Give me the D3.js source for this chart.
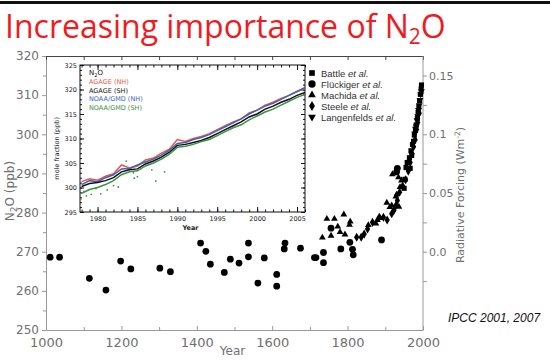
<!DOCTYPE html>
<html>
<head>
<meta charset="utf-8">
<script src="https://cdn.jsdelivr.net/npm/d3@7"></script>
<style>
  body { margin: 0; background: #fff; }
  svg text { font-family: "DejaVu Sans", sans-serif; }
</style>
</head>
<body>
<div id="chart"></div>
<script>
// ice-core / firn / archive records, [year, N2O ppb]
const battle = [[1950,286.2],[1952,288.5],[1955,291.5],[1958,292.8],[1964,294.0],[1966,291.3],[1968,295.8],[1970,294.6],[1972,297.4],[1975,298.2],[1977,299.8],[1980,301.0],[1982,302.4],[1985,304.0],[1987,305.6],[1989,307.0],[1991,308.6],[1993,310.2],[1995,311.6],[1996,312.6]];
const flueckiger = [[1011,268.6],[1036,268.6],[1115,263.2],[1159,260.2],[1198,267.6],[1225,265.6],[1302,265.8],[1330,264.9],[1410,272.2],[1424,270.1],[1436,266.8],[1473,264.7],[1489,268.1],[1512,267.1],[1537,272.2],[1537,268.7],[1562,262.0],[1579,268.4],[1612,264.2],[1612,261.2],[1634,272.2],[1632,270.7],[1675,270.9],[1712,268.5],[1716,268.5],[1736,269.8],[1736,267.2],[1756,276.0],[1782,270.7],[1806,272.4],[1813,270.6],[1815,269.2],[1890,273.0],[1930,290.4],[1932,291.3]];
const machida = [[1733,273.6],[1745,278.4],[1756,274.1],[1765,278.4],[1774,276.4],[1780,275.0],[1790,279.5],[1793,274.4],[1805,276.9],[1807,277.7],[1855,276.8],[1875,277.2],[1879,278.1],[1886,278.6],[1904,282.5],[1912,281.4],[1917,281.8],[1919,289.8],[1928,284.1],[1935,289.0],[1936,281.5],[1939,286.5],[1943,288.2]];
const steele = [[1824,273.7],[1836,273.7],[1844,274.5],[1853,275.8],[1866,277.5],[1884,278.8],[1895,278.8],[1905,278.1],[1917,279.7],[1923,280.6],[1928,281.8],[1930,284.4],[1932,283.1],[1938,285.2],[1946,286.8],[1954,288.4],[1961,290.6],[1966,292.8],[1971,295.0],[1975,296.8],[1979,298.6],[1983,301.2],[1986,303.0],[1990,305.4]];
const langenfelds = [[1978,300.2],[1980,301.4],[1982,302.0],[1984,303.6],[1986,304.6],[1988,306.2],[1990,307.4],[1992,308.8],[1994,310.2],[1996,311.0]];

// inset: direct atmospheric measurements, annual values
const insetYears = d3.range(1978, 2007);
const agageNH = [301.2,301.8,301.5,302.3,302.8,304.6,304.0,304.4,305.6,306.0,307.0,307.8,309.8,309.4,310.0,310.4,311.0,311.8,312.6,313.4,314.0,315.2,315.8,316.8,317.4,318.2,318.8,319.6,320.2];
const agageSH = [300.2,300.8,301.0,301.4,302.0,303.2,303.6,303.8,304.8,305.4,306.2,307.2,308.6,308.8,309.2,309.6,310.2,311.0,311.8,312.6,313.4,314.4,315.0,316.0,316.6,317.4,318.0,318.8,319.4];
const noaaNH = [300.6,301.4,301.2,302.0,302.6,303.8,303.9,304.6,305.2,305.8,306.6,307.6,309.0,309.2,309.8,310.2,310.8,311.6,312.4,313.2,314.0,315.0,315.8,316.6,317.2,318.0,318.8,319.6,320.4];
const noaaSH = [298.8,299.6,300.0,300.6,301.4,302.6,303.2,303.4,304.4,305.0,305.8,306.8,308.2,308.4,308.8,309.4,309.8,310.6,311.4,312.2,312.8,313.8,314.6,315.4,316.0,316.8,317.6,318.4,319.0];
const noaaSHFlask = [[1977.9,297.6],[1978.3,299.2],[1978.6,298.3],[1979.2,298.6],[1979.8,299.8],[1980.4,298.7],[1981.2,299.5],[1982.0,300.4],[1982.6,300.1],[1983.6,305.4],[1984.5,303.0],[1984.6,301.9],[1985.0,302.2],[1986.8,303.6],[1987.3,301.3],[1988.4,303.2]];

// axis tick values / labels
const yTicks = [250,260,270,280,290,300,310,320];
const xTicks = [1000,1200,1400,1600,1800,2000];
const rfTicks = [0, 0.05, 0.1, 0.15];
const rfLabels = ["0.0","0.05","0.1","0.15"];
const insetYTicks = [295,300,305,310,315,320,325];
const insetXTicks = [1980,1985,1990,1995,2000,2005];

const legendNames = ["Battle", "Flückiger", "Machida", "Steele", "Langenfelds"];
const insetNames = ["AGAGE (NH)", "AGAGE (SH)", "NOAA/GMD (NH)", "NOAA/GMD (SH)"];

const W = 550, H = 360;
const svg = d3.select('#chart').append('svg')
  .attr('width', W).attr('height', H)
  .style('background', '#fff');

// top rule + title
svg.append('rect').attr('x', 0).attr('y', 1).attr('width', W).attr('height', 3).attr('fill', '#111');
const title = svg.append('text')
  .attr('x', 5).attr('y', 38)
  .attr('fill', '#ed1c24')
  .style('font-family', '"Open Sans", sans-serif')
  .style('font-size', '32px');
title.append('tspan').text('Increasing importance of N');
title.append('tspan').attr('dy', 6).style('font-size', '21px').text('2');
title.append('tspan').attr('dy', -6).text('O');

// main scales
const x = d3.scaleLinear().domain([1000, 2000]).range([46, 423]);
const y = d3.scaleLinear().domain([250, 320]).range([330, 56]);
const rf = d3.scaleLinear().domain([0, 0.15]).range([y(270), y(315)]);

const axisClr = '#999';
const labelClr = '#707070';

function styleAxis(g, size) {
  g.selectAll('path.domain').attr('stroke', axisClr);
  g.selectAll('line').attr('stroke', axisClr);
  g.selectAll('text').attr('fill', labelClr).style('font-size', (size || 12) + 'px');
}

// left axis
const gl = svg.append('g').attr('transform', `translate(${x.range()[0]},0)`)
  .call(d3.axisLeft(y).tickValues(yTicks).tickSize(4).tickPadding(3).tickSizeOuter(0).tickFormat(d3.format('d')));
styleAxis(gl);
const glm = svg.append('g').attr('transform', `translate(${x.range()[0]},0)`)
  .call(d3.axisLeft(y).tickValues(yTicks.slice(0, -1).map(d => d + 5)).tickSize(3).tickFormat(''));
glm.select('.domain').remove();
styleAxis(glm);

// bottom axis
const gb = svg.append('g').attr('transform', `translate(0,${y.range()[0]})`)
  .call(d3.axisBottom(x).tickValues(xTicks).tickSize(-4).tickPadding(8).tickSizeOuter(0).tickFormat(d3.format('d')));
styleAxis(gb, 13);
const gbm = svg.append('g').attr('transform', `translate(0,${y.range()[0]})`)
  .call(d3.axisBottom(x).tickValues(xTicks.slice(0, -1).map(d => d + 100)).tickSize(-3).tickFormat(''));
gbm.select('.domain').remove();
styleAxis(gbm);

// top frame
const gt = svg.append('g').attr('transform', `translate(0,${y.range()[1]})`)
  .call(d3.axisTop(x).tickValues(d3.range(1000, 2001, 100)).tickSize(-4).tickFormat('').tickSizeOuter(0));
gt.select('.domain').attr('stroke', '#444');
gt.selectAll('line').attr('stroke', '#444');

// right axis (radiative forcing)
const gr = svg.append('g').attr('transform', `translate(${x.range()[1]},0)`)
  .call(d3.axisRight(rf).tickValues(rfTicks).tickSize(4).tickPadding(2)
    .tickFormat((d, i) => rfLabels[i]));
gr.select('.domain').attr('d', `M0,${y.range()[1]}V${y.range()[0]}`);
styleAxis(gr, 11);
const grm = svg.append('g').attr('transform', `translate(${x.range()[1]},0)`)
  .call(d3.axisRight(rf).tickValues(rfTicks.map(d => d - 0.025)).tickSize(4).tickFormat(''));
grm.select('.domain').remove();
styleAxis(grm);

// axis titles
const yl = svg.append('text')
  .attr('transform', `translate(14,${y(285.5)}) rotate(-90)`)
  .attr('text-anchor', 'middle').attr('fill', labelClr).style('font-size', '12px');
yl.append('tspan').text('N');
yl.append('tspan').attr('dy', 3).style('font-size', '9px').text('2');
yl.append('tspan').attr('dy', -3).text('O (ppb)');

const rl = svg.append('text')
  .attr('transform', `translate(464,195) rotate(-90)`)
  .attr('text-anchor', 'middle').attr('fill', labelClr).style('font-size', '11px');
rl.append('tspan').text('Radiative Forcing (Wm');
rl.append('tspan').attr('dy', -4).style('font-size', '7.5px').text('-2');
rl.append('tspan').attr('dy', 4).text(')');

svg.append('text').attr('x', d3.mean(x.range()) - 2).attr('y', 355)
  .attr('text-anchor', 'middle').attr('fill', labelClr).style('font-size', '12px').text('Year');

// data markers
const sym = (type, size) => d3.symbol().type(type).size(size)();
const series = [
  { data: battle, type: d3.symbolSquare, size: 26 },
  { data: flueckiger, type: d3.symbolCircle, size: 36 },
  { data: machida, type: d3.symbolTriangle, size: 20 },
  { data: steele, type: d3.symbolDiamond, size: 24 },
  { data: langenfelds, type: d3.symbolTriangle, size: 20, flip: true }
];
series.forEach(s => {
  svg.append('g').selectAll('path').data(s.data).join('path')
    .attr('d', sym(s.type, s.size))
    .attr('transform', d => `translate(${x(d[0])},${y(d[1])})` + (s.flip ? ' rotate(180)' : ''))
    .attr('fill', '#000');
});

// main legend
const lg = svg.append('g').attr('transform', 'translate(312,73)');
series.forEach((s, i) => {
  const row = lg.append('g').attr('transform', `translate(0,${i * 11})`);
  row.append('path').attr('d', sym(s.type, s.size + 6))
    .attr('transform', s.flip ? 'rotate(180)' : null).attr('fill', '#000');
  const t = row.append('text').attr('x', 9).attr('y', 3.5).attr('fill', '#333')
    .style('font-family', '"Liberation Sans", sans-serif').style('font-size', '9.5px');
  t.append('tspan').text(legendNames[i] + ' ');
  t.append('tspan').style('font-style', 'italic').text('et al.');
});

// inset
const ix = d3.scaleLinear().domain([1977.8, 2006]).range([80, 305]);
const iy = d3.scaleLinear().domain([295, 325]).range([212, 65]);
const inset = svg.append('g');
inset.append('rect')
  .attr('x', ix.range()[0]).attr('y', iy.range()[1])
  .attr('width', ix.range()[1] - ix.range()[0]).attr('height', iy.range()[0] - iy.range()[1])
  .attr('fill', '#fff').attr('stroke', '#111').attr('stroke-width', 1);

function insetAxis(g) {
  g.selectAll('.domain').remove();
  g.selectAll('line').attr('stroke', '#111');
  g.selectAll('text').attr('fill', '#222').style('font-size', '6.5px');
}
const allYears = d3.range(1978, 2006.5, 1);
const allPpb = d3.range(296, 325, 1);
inset.append('g').attr('transform', `translate(${ix.range()[0]},0)`)
  .call(d3.axisLeft(iy).tickValues(insetYTicks).tickSize(-4).tickPadding(3)).call(insetAxis);
inset.append('g').attr('transform', `translate(${ix.range()[0]},0)`)
  .call(d3.axisLeft(iy).tickValues(allPpb).tickSize(-2).tickFormat('')).call(insetAxis);
inset.append('g').attr('transform', `translate(${ix.range()[1]},0)`)
  .call(d3.axisRight(iy).tickValues(insetYTicks).tickSize(-4).tickFormat('')).call(insetAxis);
inset.append('g').attr('transform', `translate(${ix.range()[1]},0)`)
  .call(d3.axisRight(iy).tickValues(allPpb).tickSize(-2).tickFormat('')).call(insetAxis);
inset.append('g').attr('transform', `translate(0,${iy.range()[0]})`)
  .call(d3.axisBottom(ix).tickValues(insetXTicks).tickSize(-5).tickPadding(4).tickFormat(d3.format('d'))).call(insetAxis);
inset.append('g').attr('transform', `translate(0,${iy.range()[0]})`)
  .call(d3.axisBottom(ix).tickValues(allYears).tickSize(-2.5).tickFormat('')).call(insetAxis);
inset.append('g').attr('transform', `translate(0,${iy.range()[1]})`)
  .call(d3.axisTop(ix).tickValues(insetXTicks).tickSize(-5).tickFormat('')).call(insetAxis);
inset.append('g').attr('transform', `translate(0,${iy.range()[1]})`)
  .call(d3.axisTop(ix).tickValues(allYears).tickSize(-2.5).tickFormat('')).call(insetAxis);

inset.append('text').attr('x', d3.mean(ix.range()) - 2).attr('y', 230)
  .attr('text-anchor', 'middle').attr('fill', '#222')
  .style('font-size', '6.5px').style('font-weight', 'bold').text('Year');
inset.append('text')
  .attr('transform', `translate(59,${iy(308)}) rotate(-90)`)
  .attr('text-anchor', 'middle').attr('fill', '#222')
  .style('font-size', '6.5px').text('mole fraction (ppb)');

const insetColors = ['#e8584e', '#111111', '#3f63b5', '#3f8f44'];
const insetSeries = [agageNH, noaaNH, agageSH, noaaSH];
const insetColorOrder = [0, 2, 1, 3];
const line = d3.line().x((d, i) => ix(insetYears[i])).y(d => iy(d)).curve(d3.curveLinear);
insetSeries.forEach((s, k) => {
  inset.append('path').datum(s).attr('d', line)
    .attr('fill', 'none').attr('stroke', insetColors[insetColorOrder[k]]).attr('stroke-width', 1.5);
});
inset.append('g').selectAll('circle').data(noaaSHFlask).join('circle')
  .attr('cx', d => ix(d[0])).attr('cy', d => iy(d[1])).attr('r', 0.9)
  .attr('fill', insetColors[3]);

// inset legend
const n2o = inset.append('text').attr('x', 89).attr('y', 75).attr('fill', '#111').style('font-size', '7px');
n2o.append('tspan').text('N');
n2o.append('tspan').attr('dy', 2).style('font-size', '5px').text('2');
n2o.append('tspan').attr('dy', -2).text('O');
insetNames.forEach((name, i) => {
  inset.append('text').attr('x', 89).attr('y', 84 + i * 8.6)
    .attr('fill', insetColors[i]).style('font-size', '6.5px').text(name);
});

// source note
svg.append('text').attr('x', 448).attr('y', 322)
  .attr('fill', '#111').style('font-family', '"Liberation Sans", sans-serif')
  .style('font-size', '12px').style('font-style', 'italic').text('IPCC 2001,  2007');
</script>
</body>
</html>
